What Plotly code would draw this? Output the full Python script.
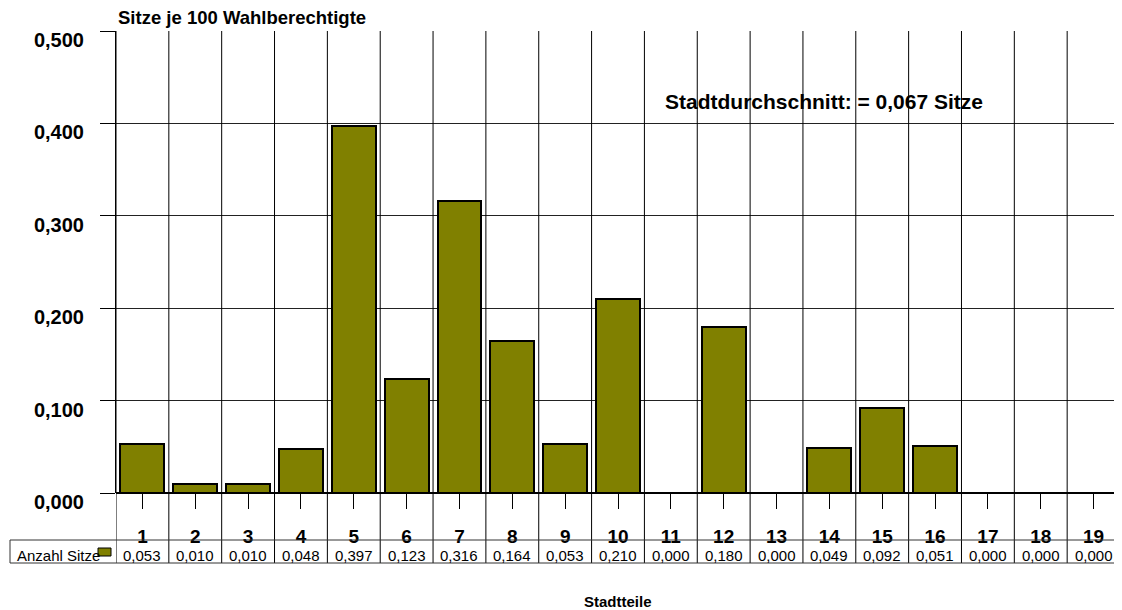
import plotly.graph_objects as go

# data
districts = list(range(1, 20))
district_labels = [str(d) for d in districts]
seats_per_100 = [0.053, 0.010, 0.010, 0.048, 0.397, 0.123, 0.316, 0.164, 0.053, 0.210,
                 0.000, 0.180, 0.000, 0.049, 0.092, 0.051, 0.000, 0.000, 0.000]
y_ticks = [0.0, 0.1, 0.2, 0.3, 0.4, 0.5]
series_name = "Anzahl Sitze"
city_avg_text = "Stadtdurchschnitt: = 0,067 Sitze"

FONT = "Arial, Liberation Sans, sans-serif"
OLIVE = "#808000"

# the page body adds an 8px margin, so the figure is made 8px smaller
OFF = 8
W_FIG, H_FIG = 1122 - OFF, 610 - OFF
# plot area in window pixels
L, R, T, B = 116, 1120, 31, 493
W, H = R - L, B - T


def xp(p):
    return (p - L) / W


def yp(p):
    return (B - p) / H


fig = go.Figure()
fig.add_trace(go.Bar(
    x=districts, y=seats_per_100, name=series_name,
    width=0.83,
    marker=dict(color=OLIVE, line=dict(color="black", width=2)),
))

shapes = []
# vertical category separators, running down through the data table
for d in districts + [districts[-1] + 1]:
    shapes.append(dict(type="line", xref="x", yref="paper",
                       x0=d - 0.5, x1=d - 0.5, y0=yp(563), y1=1,
                       line=dict(color="black", width=1)))
# data table lines
for yy in (540, 563):
    shapes.append(dict(type="line", xref="paper", yref="paper",
                       x0=xp(10), x1=1, y0=yp(yy), y1=yp(yy),
                       line=dict(color="#333", width=1)))
shapes.append(dict(type="line", xref="paper", yref="paper",
                   x0=xp(10), x1=xp(10), y0=yp(540), y1=yp(563),
                   line=dict(color="#333", width=1)))
# legend swatch
shapes.append(dict(type="rect", xref="paper", yref="paper",
                   x0=xp(98), x1=xp(111), y0=yp(556), y1=yp(548),
                   fillcolor=OLIVE, line=dict(color="black", width=1)))

annotations = []
for d, v in zip(districts, seats_per_100):
    annotations.append(dict(
        x=d, xref="x", y=0, yref="paper", yshift=-(555 - B), yanchor="middle",
        text=f"{v:.3f}".replace(".", ","), showarrow=False,
        font=dict(family=FONT, size=15, color="black"),
    ))
annotations += [
    dict(x=xp(15), xref="paper", y=yp(555), yref="paper", xanchor="left", yanchor="middle",
         text=series_name, showarrow=False, font=dict(family=FONT, size=15, color="black")),
    dict(x=0, xref="paper", y=1, yref="paper", xanchor="left", yanchor="bottom", yshift=1,
         text="<b>Sitze je 100 Wahlberechtigte</b>", showarrow=False,
         font=dict(family=FONT, size=18.5, color="black")),
    dict(x=xp(618), xref="paper", y=yp(601), yref="paper", xanchor="center", yanchor="middle",
         text="<b>Stadtteile</b>", showarrow=False,
         font=dict(family=FONT, size=15, color="black")),
    dict(x=xp(663), xref="paper", y=yp(102), yref="paper", xanchor="left", yanchor="middle",
         text=f"<b>{city_avg_text}</b>", showarrow=False,
         font=dict(family=FONT, size=21, color="black")),
]

fig.update_layout(
    width=W_FIG, height=H_FIG,
    margin=dict(l=L - OFF, r=1122 - R, t=T - OFF, b=610 - B, pad=0, autoexpand=False),
    paper_bgcolor="white", plot_bgcolor="white",
    showlegend=False,
    separators=",.",
    font=dict(family=FONT, color="black"),
    shapes=shapes,
    annotations=annotations,
    bargap=0,
)
fig.update_xaxes(
    range=[0.5, 19.5], tickmode="array", tickvals=districts, ticktext=district_labels,
    ticks="outside", ticklen=15, tickcolor="black", tickwidth=1,
    ticklabelstandoff=11, automargin=False,
    tickfont=dict(family=FONT, size=19, color="black", weight="bold"),
    showgrid=False, showline=False, zeroline=False, fixedrange=True,
)
fig.update_yaxes(
    range=[0, 0.5], tickvals=y_ticks, tickformat=".3f",
    ticks="outside", ticklen=15, tickcolor="black", tickwidth=1,
    ticklabelstandoff=12, ticklabelshift=9, automargin=False,
    tickfont=dict(family=FONT, size=20, color="black", weight="bold"),
    showgrid=True, gridcolor="#222", gridwidth=1,
    zeroline=True, zerolinecolor="black", zerolinewidth=2,
    showline=True, linecolor="black", linewidth=1, fixedrange=True,
)

fig.write_html("out.html")
